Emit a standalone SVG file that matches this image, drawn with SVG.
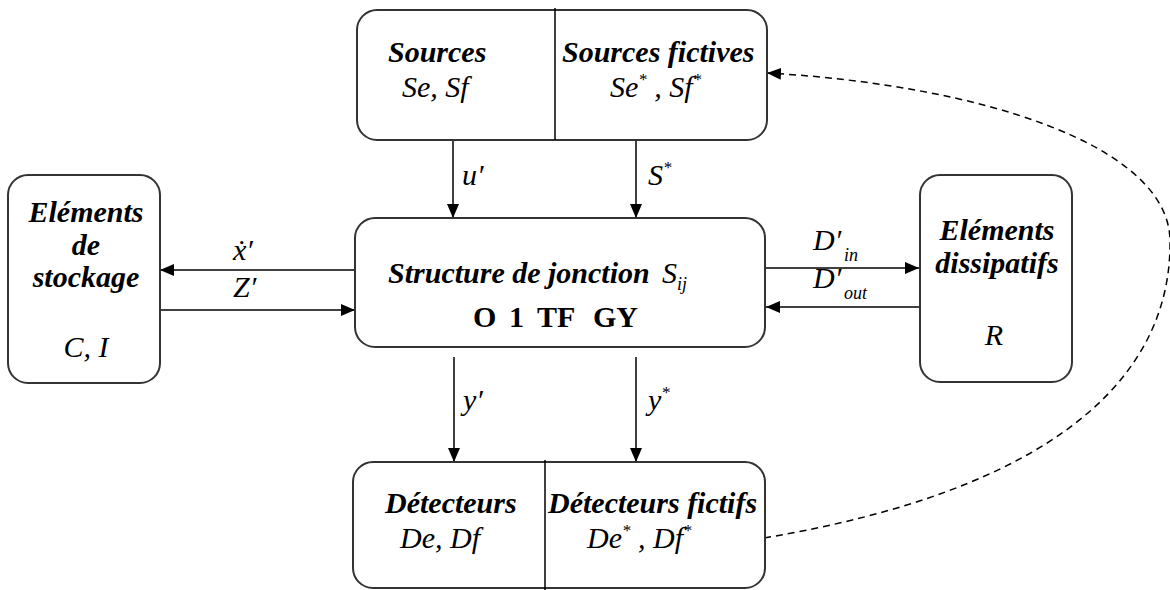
<svg xmlns="http://www.w3.org/2000/svg" width="1170" height="590" viewBox="0 0 1170 590">
<defs>
<style>
.box{fill:#fff;stroke:#333;stroke-width:2}
.div{stroke:#000;stroke-width:1.5}
.ln{stroke:#000;stroke-width:1.5;fill:none}
.dash{stroke:#000;stroke-width:1.5;fill:none;stroke-dasharray:7 5}
.t{font-family:"Liberation Serif","Times New Roman",serif;font-size:30px;fill:#000}
.bi{font-weight:bold;font-style:italic}
.i{font-style:italic}
.b{font-weight:bold}
.sup{font-size:17px}
.sub{font-size:18px}
</style>
<marker id="ah" viewBox="0 0 14 12" refX="14" refY="6" markerWidth="14" markerHeight="12" markerUnits="userSpaceOnUse" orient="auto">
<path d="M0,0 L14,6 L0,12 Z" fill="#000"/>
</marker>
</defs>

<g id="connectors">
<line class="ln" x1="453" y1="140" x2="453" y2="218" marker-end="url(#ah)"/>
<line class="ln" x1="636" y1="140" x2="636" y2="218" marker-end="url(#ah)"/>
<line class="ln" x1="355" y1="270" x2="160" y2="270" marker-end="url(#ah)"/>
<line class="ln" x1="158" y1="310" x2="355" y2="310" marker-end="url(#ah)"/>
<line class="ln" x1="765" y1="268" x2="919" y2="268" marker-end="url(#ah)"/>
<line class="ln" x1="920" y1="307" x2="766" y2="307" marker-end="url(#ah)"/>
<line class="ln" x1="454" y1="357" x2="454" y2="462" marker-end="url(#ah)"/>
<line class="ln" x1="636" y1="357" x2="636" y2="462" marker-end="url(#ah)"/>
<path class="dash" d="M764,538 C1050,490 1172,380 1170,240 C1168,145 980,85 767,73" marker-end="url(#ah)"/>
<text class="t i" x="462" y="185">u′</text>
<text class="t i" x="648" y="185">S<tspan class="sup" dy="-12">*</tspan></text>
<text class="t i" x="233" y="260">ẋ′</text>
<text class="t i" x="233" y="297">Z′</text>
<text class="t i" x="813" y="250">D′</text>
<text class="t i sub" x="844" y="261">in</text>
<text class="t i" x="813" y="288">D′</text>
<text class="t i sub" x="844" y="299">out</text>
<text class="t i" x="463" y="410">y′</text>
<text class="t i" x="648" y="410">y<tspan class="sup" dy="-12">*</tspan></text>
</g>

<g id="sources">
<rect class="box" x="357" y="10" width="410" height="130" rx="20"/>
<line class="div" x1="555" y1="8" x2="555" y2="140"/>
<text class="t bi" x="388" y="62">Sources</text>
<text class="t i" x="402" y="97">Se, Sf</text>
<text class="t bi" x="562" y="62">Sources fictives</text>
<text class="t i" x="610" y="97">Se<tspan class="sup" dy="-12">*</tspan><tspan dy="12"> ,  Sf</tspan><tspan class="sup" dy="-12">*</tspan></text>
</g>

<g id="stockage">
<rect class="box" x="8" y="175" width="152" height="208" rx="20"/>
<text class="t bi" x="86" y="222" text-anchor="middle">Eléments</text>
<text class="t bi" x="86" y="255" text-anchor="middle">de</text>
<text class="t bi" x="86" y="287" text-anchor="middle">stockage</text>
<text class="t i" x="86" y="357" text-anchor="middle">C, I</text>
</g>

<g id="jonction">
<rect class="box" x="355" y="218" width="410" height="129" rx="20"/>
<text class="t bi" x="388" y="283">Structure de jonction</text>
<text class="t i" x="662" y="283">S<tspan class="sub" dy="7">ij</tspan></text>
<text class="t b" y="327"><tspan x="473">O</tspan><tspan x="509">1</tspan><tspan x="537">TF</tspan><tspan x="593">GY</tspan></text>
</g>

<g id="dissipatifs">
<rect class="box" x="920" y="175" width="152" height="207" rx="20"/>
<text class="t bi" x="997" y="240" text-anchor="middle">Eléments</text>
<text class="t bi" x="997" y="273" text-anchor="middle">dissipatifs</text>
<text class="t i" x="994" y="345" text-anchor="middle">R</text>
</g>

<g id="detecteurs">
<rect class="box" x="353" y="462" width="412" height="126" rx="20"/>
<line class="div" x1="545" y1="460" x2="545" y2="590"/>
<text class="t bi" x="385" y="513">Détecteurs</text>
<text class="t i" x="400" y="548">De, Df</text>
<text class="t bi" x="548" y="513">Détecteurs fictifs</text>
<text class="t i" x="587" y="548">De<tspan class="sup" dy="-12">*</tspan><tspan dy="12"> ,  Df</tspan><tspan class="sup" dy="-12">*</tspan></text>
</g>
</svg>
